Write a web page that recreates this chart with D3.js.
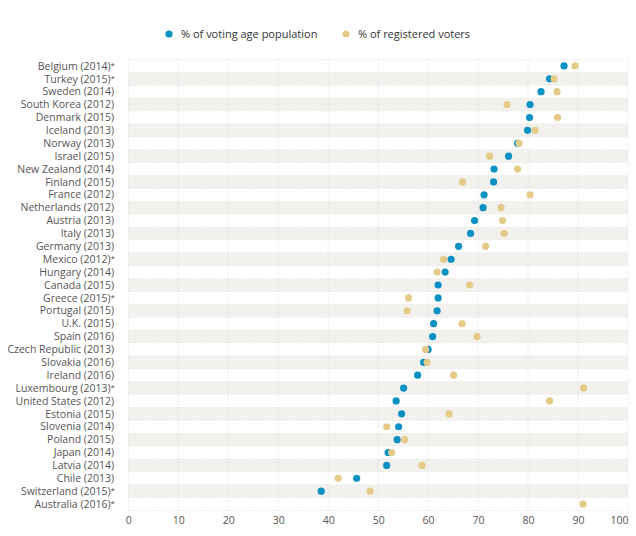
<!DOCTYPE html>
<html>
<head>
<meta charset="utf-8">
<script src="https://cdn.jsdelivr.net/npm/d3@7"></script>
<style>
body{margin:0;background:#fff;}
svg{display:block;font-family:"Open Sans","Noto Sans",sans-serif;}
</style>
</head>
<body>
<svg id="chart" width="636" height="536"></svg>
<script>
const countries = ["Belgium (2014)","Turkey (2015)","Sweden (2014)","South Korea (2012)","Denmark (2015)","Iceland (2013)","Norway (2013)","Israel (2015)","New Zealand (2014)","Finland (2015)","France (2012)","Netherlands (2012)","Austria (2013)","Italy (2013)","Germany (2013)","Mexico (2012)","Hungary (2014)","Canada (2015)","Greece (2015)","Portugal (2015)","U.K. (2015)","Spain (2016)","Czech Republic (2013)","Slovakia (2016)","Ireland (2016)","Luxembourg (2013)","United States (2012)","Estonia (2015)","Slovenia (2014)","Poland (2015)","Japan (2014)","Latvia (2014)","Chile (2013)","Switzerland (2015)","Australia (2016)"];
const compulsory = [true,true,false,false,false,false,false,false,false,false,false,false,false,false,false,true,false,false,true,false,false,false,false,false,false,true,false,false,false,false,false,false,false,true,true];
const votingAgePop = [87.2,84.3,82.6,80.4,80.3,79.9,77.9,76.1,73.2,73.1,71.2,71.0,69.3,68.5,66.1,64.6,63.4,62.0,62.0,61.8,61.1,60.9,60.0,59.1,57.9,55.1,53.6,54.7,54.1,53.8,52.0,51.7,45.7,38.6,null];
const registeredVoters = [89.4,85.2,85.8,75.8,85.9,81.4,78.2,72.3,77.9,66.9,80.4,74.6,74.9,75.2,71.5,63.1,61.8,68.3,56.1,55.8,66.8,69.8,59.5,59.8,65.1,91.1,84.3,64.2,51.7,55.3,52.7,58.8,42.0,48.4,91.0];
const xTicks = [0,10,20,30,40,50,60,70,80,90,100];
const seriesNames = ["% of voting age population","% of registered voters"];
const colors = ["#0a91c4","#e5cb88"];

const svg = d3.select("#chart");
const x = d3.scaleLinear().domain([0,100]).range([128.3,628]);
const y = d3.scaleBand().domain(countries).range([59.5,510.5]).padding(0);
const bw = y.bandwidth();

// bands
svg.append("g").selectAll("rect").data(countries).join("rect")
  .attr("x", x(0)).attr("width", x(100)-x(0))
  .attr("y", d=>y(d)).attr("height", bw)
  .attr("fill", (d,i)=> i%2===1 ? "#f2f1ed" : "none");

// horizontal dotted lines
const hb = countries.map(d=>y(d)).concat([y(countries[countries.length-1])+bw]);
svg.append("g").selectAll("line").data(hb).join("line")
  .attr("x1", x(0)).attr("x2", x(100))
  .attr("y1", d=>d).attr("y2", d=>d)
  .attr("stroke","#e2e2e2").attr("stroke-width",1).attr("stroke-dasharray","1,2");

// vertical dotted grid lines
svg.append("g").selectAll("line").data(xTicks).join("line")
  .attr("x1", d=>x(d)).attr("x2", d=>x(d))
  .attr("y1", hb[0]).attr("y2", hb[hb.length-1])
  .attr("stroke","#d8d8d8").attr("stroke-width",1).attr("stroke-dasharray","1,2");

// x axis
const xAxis = d3.axisBottom(x).tickValues(xTicks).tickSize(0).tickPadding(0);
const gx = svg.append("g").attr("transform","translate(0,517)").call(xAxis);
gx.select(".domain").remove();
gx.selectAll("text").attr("fill","#555").attr("font-size","10.5px").attr("dy","0.71em")
  .attr("font-family","'Open Sans','Noto Sans',sans-serif");
gx.selectAll("text").filter(d=>d===100).attr("text-anchor","end").attr("x",0);

// y labels
const yl = svg.append("g").selectAll("text").data(countries).join("text")
  .attr("x", 115).attr("y", d=>y(d)+bw/2).attr("dy","0.35em")
  .attr("text-anchor","end").attr("fill","#555").attr("font-size","10.5px");
yl.append("tspan").text(d=>d);
yl.filter((d,i)=>compulsory[i]).append("tspan").text("*")
  .attr("font-size","8px").attr("dy","-0.2em");
yl.filter((d,i)=>!compulsory[i]).attr("x",114);

// dots
svg.append("g").selectAll("circle").data(countries.map((c,i)=>({c,v:votingAgePop[i]})).filter(d=>d.v!=null)).join("circle")
  .attr("cx", d=>x(d.v)).attr("cy", d=>y(d.c)+bw/2).attr("r",3.6).attr("fill",colors[0]);
svg.append("g").selectAll("circle").data(countries.map((c,i)=>({c,v:registeredVoters[i]})).filter(d=>d.v!=null)).join("circle")
  .attr("cx", d=>x(d.v)).attr("cy", d=>y(d.c)+bw/2).attr("r",3.6).attr("fill",colors[1]);

// legend
const legX = [169,346];
const lg = svg.append("g").selectAll("g").data(seriesNames).join("g")
  .attr("transform",(d,i)=>`translate(${legX[i]},34)`);
lg.append("circle").attr("r",3.6).attr("fill",(d,i)=>colors[i]);
lg.append("text").attr("x",12).attr("dy","0.35em").attr("font-size","11px").attr("fill","#333").text(d=>d);
</script>
</body>
</html>
